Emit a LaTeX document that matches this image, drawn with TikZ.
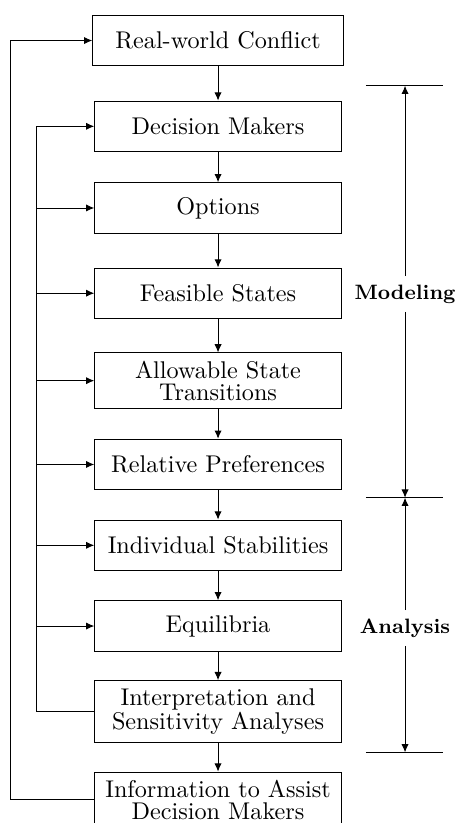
\documentclass[tikz,border=0pt]{standalone}
\usetikzlibrary{arrows.meta}
\tikzset{
  stage/.style={draw, minimum width=3.584cm, minimum height=0.734cm, align=center,
    font=\fontsize{10pt}{9pt}\selectfont},
  phase/.style={font=\fontsize{8.6pt}{10pt}\selectfont\bfseries},
  >={Latex[length=3.4pt,width=3pt]}
}
\begin{document}
\begin{tikzpicture}
    \useasboundingbox (0,0) rectangle (6.628,-11.962);
    % stages
    \node[stage, minimum width=3.642cm] (rwc) at (3.169,-0.589) {Real-world Conflict};
    \node[stage] (dm) at (3.169,-1.836) {Decision Makers};
    \node[stage] (opt) at (3.169,-3.023) {Options};
    \node[stage] (feas) at (3.169,-4.262) {Feasible States};
    \node[stage] (allow) at (3.169,-5.533) {Allowable State\\Transitions};
    \node[stage] (rel) at (3.169,-6.751) {Relative Preferences};
    \node[stage] (ind) at (3.169,-7.926) {Individual Stabilities};
    \node[stage] (equ) at (3.169,-9.099) {Equilibria};
    \node[stage] (interp) at (3.169,-10.346) {Interpretation and\\Sensitivity Analyses};
    \node[stage] (info) at (3.169,-11.625) {Information to Assist\\Decision Makers};
    \foreach \a/\b in {rwc/dm, dm/opt, opt/feas, feas/allow, allow/rel, rel/ind, ind/equ, equ/interp, interp/info}
        \draw[->] (\a) -- (\b);
    % feedback loops
    \coordinate (outer) at (0.156,-0.589);
    \coordinate (inner) at (0.533,-1.836);
    \draw[->] (info.west) -| (outer) -- (rwc.west);
    \draw[->] (interp.west) -| (inner) -- (dm.west);
    \foreach \n in {opt, feas, allow, rel, ind, equ}
        \draw[->] (inner |- \n.west) -- (\n.west);
    % phases
    \coordinate (mtop) at (5.887,-1.246);
    \coordinate (mmid) at (5.887,-7.234);
    \coordinate (mbot) at (5.887,-10.935);
    \foreach \c in {mtop, mmid, mbot}
        \draw ([xshift=-0.57cm]\c) -- ([xshift=0.55cm]\c);
    \node[phase] (model) at (5.887,-4.273) {Modeling};
    \node[phase] (anal) at (5.887,-9.128) {Analysis};
    \draw[->] (model) -- (mtop);
    \draw[->] (model) -- (mmid);
    \draw[->] (anal) -- (mmid);
    \draw[->] (anal) -- (mbot);
\end{tikzpicture}
\end{document}
